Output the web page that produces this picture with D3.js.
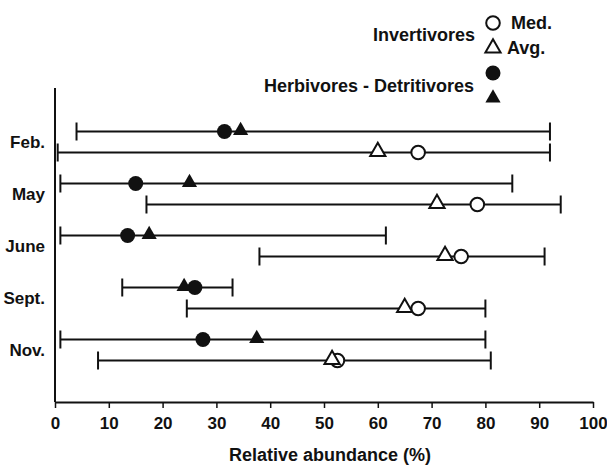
<!DOCTYPE html>
<html>
<head>
<meta charset="utf-8">
<script src="https://cdn.jsdelivr.net/npm/d3@7"></script>
<style>
  body { margin: 0; background: #fff; }
  text { font-family: "Liberation Sans", Arial, sans-serif; font-weight: bold; fill: #111; }
</style>
</head>
<body>
<div id="chart"></div>
<script>
// Months shown on the y axis
const months = ['Feb.', 'May', 'June', 'Sept.', 'Nov.'];

// Herbivores - Detritivores: range, median, average (%)
const herbLow = [4, 1, 1, 12.5, 1];
const herbHigh = [92, 85, 61.5, 33, 80];
const herbMed = [31.5, 15, 13.5, 26, 27.5];
const herbAvg = [34.5, 25, 17.5, 24, 37.5];

// Invertivores: range, median, average (%)
const invLow = [0.5, 17, 38, 24.5, 8];
const invHigh = [92, 94, 91, 80, 81];
const invMed = [67.5, 78.5, 75.5, 67.5, 52.5];
const invAvg = [60, 71, 72.5, 65, 51.5];

const xTicks = [0, 10, 20, 30, 40, 50, 60, 70, 80, 90, 100];

const width = 607, height = 466;
const ink = '#111';

const svg = d3.select('#chart').append('svg')
  .attr('width', width)
  .attr('height', height);

const x = d3.scaleLinear().domain([0, 100]).range([55, 593]);
const y = d3.scalePoint().domain(months).range([90, 402]).padding(1);
const offset = 10.5;  // distance of each group's line from the month centre

// build rows for both groups
const rows = [];
months.forEach((m, i) => {
  rows.push({ month: m, group: 'herb', yPos: y(m) - offset, low: herbLow[i], high: herbHigh[i], med: herbMed[i], avg: herbAvg[i] });
  rows.push({ month: m, group: 'inv', yPos: y(m) + offset, low: invLow[i], high: invHigh[i], med: invMed[i], avg: invAvg[i] });
});

// x axis
const xAxis = svg.append('g')
  .attr('transform', `translate(0,${y.range()[1]})`)
  .call(d3.axisBottom(x).tickValues(xTicks).tickSize(6).tickSizeOuter(0).tickPadding(9));
xAxis.select('.domain').attr('stroke', ink).attr('stroke-width', 2);
xAxis.selectAll('.tick line').attr('stroke', ink).attr('stroke-width', 1.5);
xAxis.selectAll('.tick text').style('font-size', '17px').attr('fill', ink);

// y axis line
svg.append('line')
  .attr('x1', x(0)).attr('x2', x(0))
  .attr('y1', y.range()[0] - 2).attr('y2', y.range()[1])
  .attr('stroke', ink).attr('stroke-width', 2);

// month labels
svg.selectAll('.month')
  .data(months)
  .enter()
  .append('text')
  .attr('class', 'month')
  .attr('x', 45)
  .attr('y', d => y(d))
  .attr('dy', '0.35em')
  .style('text-anchor', 'end')
  .style('font-size', '17px')
  .text(d => d);

// range lines with end caps
svg.selectAll('.range')
  .data(rows)
  .enter()
  .append('line')
  .attr('x1', d => x(d.low)).attr('x2', d => x(d.high))
  .attr('y1', d => d.yPos).attr('y2', d => d.yPos)
  .attr('stroke', ink).attr('stroke-width', 2);

const caps = rows.flatMap(d => [{ v: d.low, yPos: d.yPos }, { v: d.high, yPos: d.yPos }]);
svg.selectAll('.cap')
  .data(caps)
  .enter()
  .append('line')
  .attr('x1', d => x(d.v)).attr('x2', d => x(d.v))
  .attr('y1', d => d.yPos - 9).attr('y2', d => d.yPos + 9)
  .attr('stroke', ink).attr('stroke-width', 2);

// medians (circles) then averages (triangles)
svg.selectAll('.med')
  .data(rows)
  .enter()
  .append('circle')
  .attr('cx', d => x(d.med))
  .attr('cy', d => d.yPos)
  .attr('r', d => d.group === 'herb' ? 7.5 : 6.8)
  .attr('fill', d => d.group === 'herb' ? ink : '#fff')
  .attr('stroke', ink)
  .attr('stroke-width', d => d.group === 'herb' ? 0 : 2);

const tri = d3.symbol().type(d3.symbolTriangle).size(100);
svg.selectAll('.avg')
  .data(rows)
  .enter()
  .append('path')
  .attr('d', tri)
  .attr('transform', d => `translate(${x(d.avg)},${d.yPos - 1})`)
  .attr('fill', d => d.group === 'herb' ? ink : '#fff')
  .attr('stroke', ink)
  .attr('stroke-width', d => d.group === 'herb' ? 0 : 2);

// legend
const legendX = 493;
svg.append('circle').attr('cx', legendX).attr('cy', 23).attr('r', 6.8)
  .attr('fill', '#fff').attr('stroke', ink).attr('stroke-width', 2);
svg.append('path').attr('d', tri).attr('transform', `translate(${legendX},48)`)
  .attr('fill', '#fff').attr('stroke', ink).attr('stroke-width', 2);
svg.append('circle').attr('cx', legendX).attr('cy', 73).attr('r', 7.5).attr('fill', ink);
svg.append('path').attr('d', tri).attr('transform', `translate(${legendX},98)`).attr('fill', ink);

const legendText = [
  { label: 'Med.', x: 511, y: 23, anchor: 'start' },
  { label: 'Avg.', x: 507, y: 48, anchor: 'start' },
  { label: 'Invertivores', x: 475, y: 35, anchor: 'end' },
  { label: 'Herbivores - Detritivores', x: 474, y: 86, anchor: 'end' }
];
svg.selectAll('.legend-text')
  .data(legendText)
  .enter()
  .append('text')
  .attr('x', d => d.x)
  .attr('y', d => d.y)
  .attr('dy', '0.35em')
  .style('text-anchor', d => d.anchor)
  .style('font-size', '18px')
  .text(d => d.label);

// x axis title
svg.append('text')
  .attr('x', 330)
  .attr('y', 455)
  .attr('dy', '0.35em')
  .style('text-anchor', 'middle')
  .style('font-size', '18px')
  .text('Relative abundance (%)');
</script>
</body>
</html>
